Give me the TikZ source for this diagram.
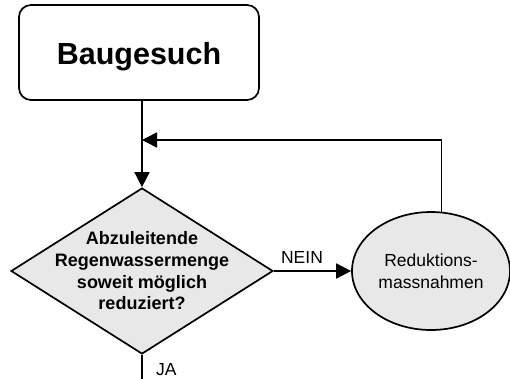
\documentclass[tikz,border=0pt]{standalone}
\usepackage{fontspec}
\setmainfont{Liberation Sans}
\usetikzlibrary{shapes.geometric,arrows.meta}
\begin{document}
\begin{tikzpicture}[x=1pt,y=-1pt,
  shapeline/.style={draw=black,line width=1.7pt},
  flow/.style={line width=1.6pt,-{Triangle[length=15pt,width=15pt]}},
  plain/.style={line width=1.6pt},
  greyfill/.style={fill=black!9},
  lbl/.style={font=\fontsize{17.5}{21}\selectfont,inner sep=0pt}
]
\useasboundingbox (0,0) rectangle (510,379);

% start box
\node[shapeline,rounded corners=12pt,minimum width=240pt,minimum height=95pt,
      inner sep=0pt,text height=25pt,text depth=0pt,
      font=\fontsize{30.5}{36}\selectfont\bfseries]
  (start) at (139,52.5) {Baugesuch};

% decision
\node[shapeline,greyfill,diamond,minimum width=262pt,minimum height=166pt,inner sep=0pt]
  (dec) at (142,271) {};
\node[align=center,inner sep=0pt,font=\fontsize{18}{21.7}\selectfont\bfseries]
  (dectext) at (dec.center) {Abzuleitende\\Regenwassermenge\\soweit möglich\\reduziert?};

% reduction measures
\node[shapeline,greyfill,ellipse,minimum width=158pt,minimum height=118pt,inner sep=0pt,
      align=center,font=\fontsize{17.5}{21.7}\selectfont]
  (red) at (431,271) {Reduktions-\\massnahmen};

% junction and loose end
\coordinate (merge) at (142,140);
\coordinate (down) at (142,383);

% connectors
\draw[plain] (dec.north |- start.south) -- (merge);
\draw[flow] (merge) -- (dec.north);
\draw[flow] (red.80) |- (merge);
\draw[flow] (dec.east) -- (red.west);
\draw[plain] (dec.south) -- (down);

% labels
\node[lbl,anchor=base] (nein) at (302,263) {NEIN};
\node[lbl,anchor=base west] (ja) at (156,375.5) {JA};
\end{tikzpicture}
\end{document}
